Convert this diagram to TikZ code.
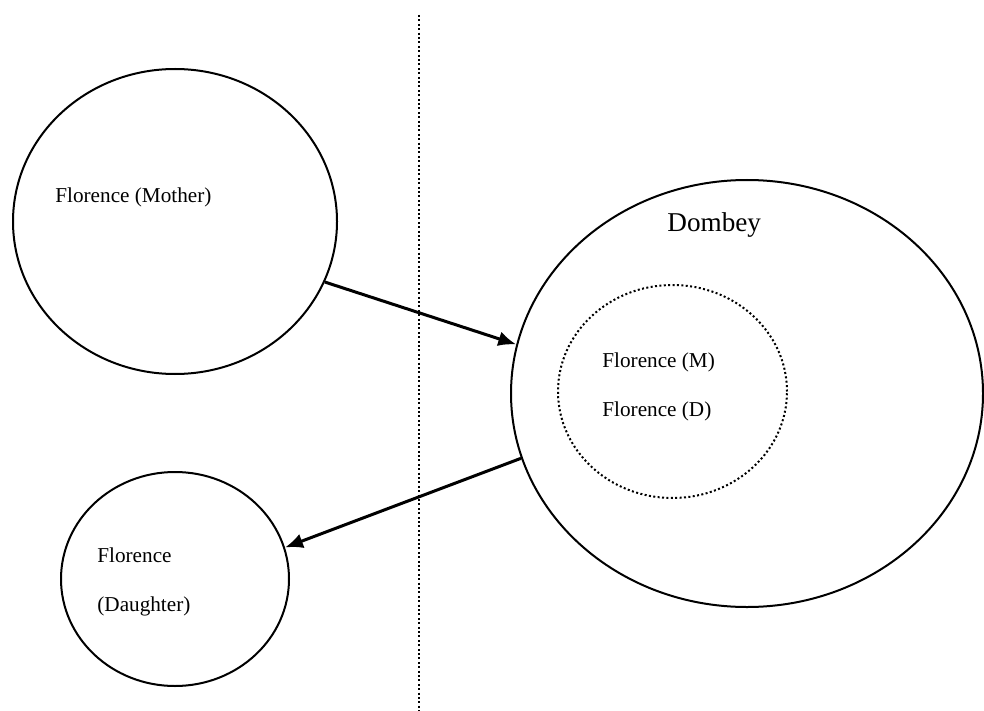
\documentclass[tikz,border=0pt]{standalone}
\usepackage{fontspec}
\setmainfont{Liberation Serif}
\usepackage{tikz}
\usetikzlibrary{arrows.meta}
\usetikzlibrary{shapes.geometric}
\usetikzlibrary{positioning}
\tikzset{basic ring/.style={draw,ellipse,inner sep=0pt,line width=1pt}}
\tikzset{ring/.style={basic ring}}
\tikzset{dot ring/.style={basic ring,dash pattern=on 1pt off 1.2pt}}
\tikzset{label text/.style={anchor=base west,inner sep=0pt,
                            font=\fontsize{10.6}{12}\selectfont}}
\tikzset{move/.style={draw,
                      line width=1.5pt,
                      -{Latex[length=9pt,width=7.5pt]}}}
\newcommand{\FLO}{Florence}

\begin{document}
\begin{tikzpicture}
      [
      x=0.5pt,y=-0.5pt,
      title text/.style={label text,font=\fontsize{13.6}{16}\selectfont},
      ]

      \useasboundingbox (0,0) rectangle (984,711);

      % border between the two worlds
      \coordinate (B1) at (419,15);
      \coordinate (B2) at (419,711);
      \draw [line width=1pt,dash pattern=on 1pt off 1.2pt] (B1) -- (B2);

      % circles
      \node [ring,minimum width=162pt,minimum height=152.5pt] (mother) at (175,221.5) {};
      \node [ring,minimum width=236pt,minimum height=213.5pt] (dombey) at (747,393.5) {};
      \node [dot ring,minimum width=114.5pt,minimum height=106.5pt] (inner) at (672.5,391.5) {};
      \node [ring,minimum width=114pt,minimum height=107pt] (daughter) at (175,579) {};

      % texts
      \node [label text] (tM) at (55,203) {\FLO{} (Mother)};
      \node [title text] (tD) at (667,232) {Dombey};
      \node [label text] (tIM) at (602,367) {\FLO{} (M)};
      \node [label text] (tID) at (602,416) {\FLO{} (D)};
      \node [label text] (tF) at (97,562) {\FLO};
      \node [label text] (tDa) at (97,611) {(Daughter)};

      % arrows
      \path [move] (mother.-22.5) -- (dombey.168.5);
      \path [move] (dombey.196.7) -- (daughter.16.9);

    \end{tikzpicture}
\end{document}
